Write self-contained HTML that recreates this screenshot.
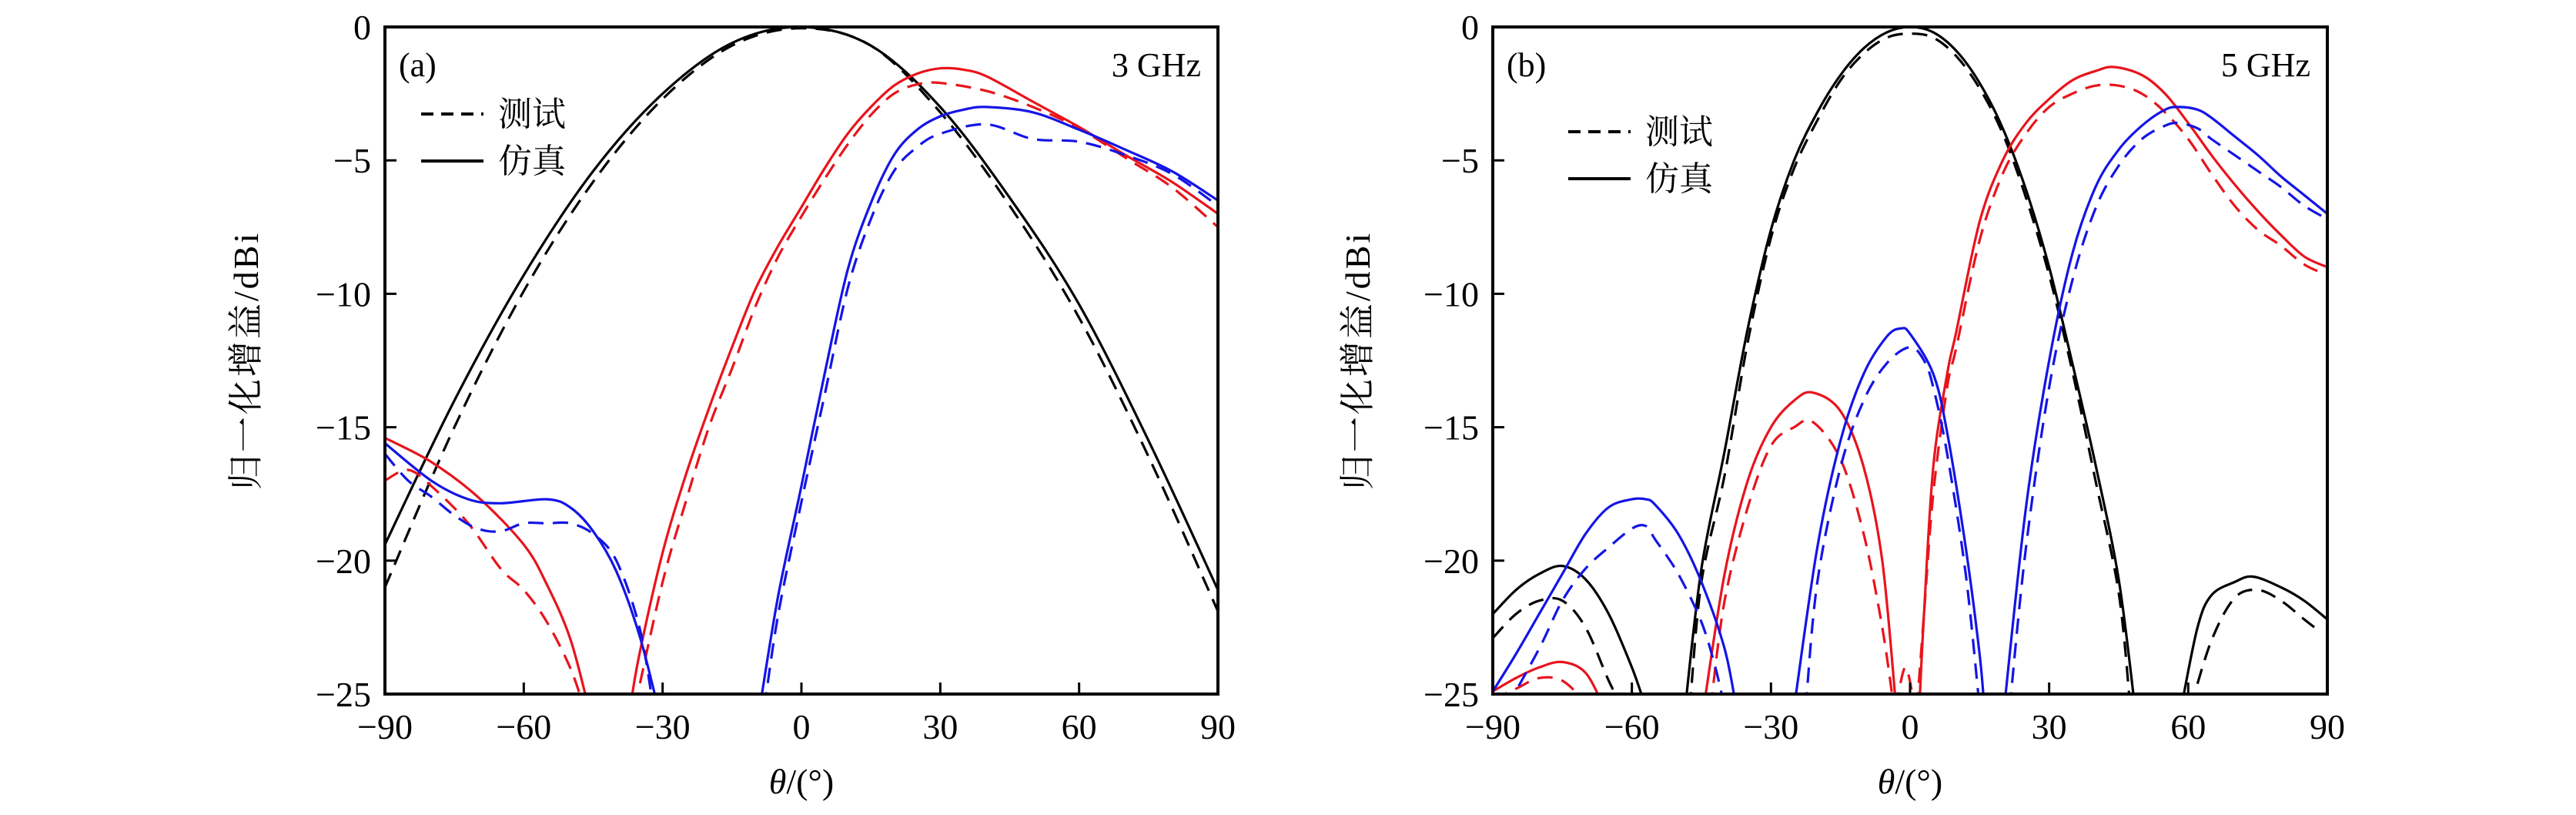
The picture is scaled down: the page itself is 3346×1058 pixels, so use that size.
<!DOCTYPE html>
<html><head><meta charset="utf-8"><style>
html,body{margin:0;padding:0;background:#fff}
svg text{font-family:"Liberation Serif","Noto Serif CJK SC",serif}
</style></head><body>
<svg id="fig" width="3346" height="1053" viewBox="0 0 3346 1053" xmlns="http://www.w3.org/2000/svg"></svg>
<script>
// ---- Panel (a) 3 GHz ----
const thetaTicks=[-90,-60,-30,0,30,60,90];
const gainTicks=[0,-5,-10,-15,-20,-25];
const aBlackSimT=[-90,-75,-60,-45,-30,-15,0,15,30,45,60,75,90];
const aBlackSimG=[-19.4,-14.0,-9.3,-5.4,-2.5,-0.6,0,-0.7,-3.0,-6.4,-10.4,-15.5,-21.1];
const aBlackMeaT=[-90,-75,-60,-45,-30,-15,0,15,30,45,60,75,90];
const aBlackMeaG=[-21.0,-15.0,-9.9,-5.8,-2.7,-0.7,-0.05,-0.7,-3.2,-6.7,-10.9,-16.1,-21.9];
const aRedSimT1=[-90,-80,-70,-60,-55,-50,-46];
const aRedSimG1=[-15.4,-16.3,-17.6,-19.4,-20.9,-22.9,-25.5];
const aRedSimT2=[-37,-35,-30,-25,-20,-15,-10,-5,0,5,10,15,20,25,30,35,40,50,60,70,80,90];
const aRedSimG2=[-25.5,-23.5,-19.7,-16.8,-14.3,-12.0,-9.85,-8.2,-6.75,-5.3,-4.0,-3.0,-2.2,-1.75,-1.55,-1.6,-1.85,-2.8,-3.75,-4.8,-5.8,-7.0];
const aRedMeaT1=[-90,-85,-80,-72,-65,-60,-55,-50,-47];
const aRedMeaG1=[-17.0,-16.6,-17.2,-18.6,-20.3,-21.1,-22.3,-24.0,-25.5];
const aRedMeaT2=[-36,-30,-25,-20,-15,-10,-5,0,5,10,15,20,25,30,40,50,60,70,80,90];
const aRedMeaG2=[-25.5,-20.8,-17.8,-15.0,-12.8,-10.5,-8.6,-7.1,-5.7,-4.4,-3.3,-2.5,-2.15,-2.1,-2.4,-3.0,-3.8,-4.9,-6.0,-7.5];
const aBlueSimT1=[-90,-80,-72,-65,-55,-50,-45,-40,-35,-31];
const aBlueSimG1=[-15.6,-17.0,-17.7,-17.85,-17.7,-18.0,-18.9,-20.4,-22.8,-25.5];
const aBlueSimT2=[-9,-5,0,5,10,15,20,25,30,35,40,50,60,70,80,90];
const aBlueSimG2=[-25.5,-21.3,-17.2,-13.0,-9.1,-6.6,-4.8,-3.85,-3.35,-3.1,-3.0,-3.2,-3.85,-4.6,-5.4,-6.5];
const aBlueMeaT1=[-90,-85,-80,-75,-70,-65,-60,-55,-50,-45,-40,-35,-32];
const aBlueMeaG1=[-16.0,-17.0,-17.6,-18.3,-18.8,-18.9,-18.6,-18.6,-18.6,-19.0,-20.0,-22.5,-25.5];
const aBlueMeaT2=[-8,-5,0,5,10,15,20,25,30,40,50,60,70,80,90];
const aBlueMeaG2=[-25.5,-22.0,-17.8,-13.8,-9.8,-7.2,-5.4,-4.5,-4.0,-3.65,-4.2,-4.3,-4.8,-5.5,-6.7];
// ---- Panel (b) 5 GHz ----
const bBlackSimT1=[-90,-85,-80,-75,-70,-65,-60,-57];
const bBlackSimG1=[-22.0,-21.1,-20.5,-20.2,-20.7,-22.0,-24.0,-25.5];
const bBlackSimT2=[-48.5,-45,-40,-35,-30,-25,-20,-15,-10,-5,0,5,10,15,20,25,30,35,40,45,48.5];
const bBlackSimG2=[-25.5,-20.3,-15.9,-11.3,-7.6,-5.0,-3.2,-1.8,-0.8,-0.2,0,-0.2,-0.9,-2.1,-3.8,-6.1,-9.0,-12.6,-16.4,-20.7,-25.5];
const bBlackSimT3=[58.5,62,65,70,74,80,85,90];
const bBlackSimG3=[-25.5,-22.5,-21.3,-20.8,-20.6,-21.0,-21.5,-22.2];
const bBlackMeaT1=[-90,-85,-80,-75,-70,-65,-62];
const bBlackMeaG1=[-22.9,-22.0,-21.5,-21.5,-22.5,-24.5,-25.5];
const bBlackMeaT2=[-47.5,-45,-40,-35,-30,-25,-20,-15,-10,-5,0,5,10,15,20,25,30,35,40,45,47.5];
const bBlackMeaG2=[-25.5,-20.8,-16.8,-11.8,-7.9,-5.3,-3.5,-2.0,-1.0,-0.4,-0.25,-0.4,-1.1,-2.3,-4.0,-6.4,-9.3,-12.9,-17.0,-21.2,-25.5];
const bBlackMeaT3=[60.5,65,70,75,80,85,88];
const bBlackMeaG3=[-25.5,-23.0,-21.4,-21.1,-21.5,-22.2,-22.6];
const bRedSimT1=[-90,-85,-80,-75,-70,-66];
const bRedSimG1=[-24.9,-24.4,-24.0,-23.8,-24.2,-25.5];
const bRedSimT2=[-44.5,-40,-35,-30,-25,-21,-15,-10,-6,-3];
const bRedSimG2=[-25.5,-20.5,-17.0,-15.0,-14.0,-13.7,-14.4,-16.5,-20.0,-25.5];
const bRedSimT3=[2,3,5,8,10,15,20,25,30,35,40,44,50,55,60,65,70,75,80,85,90];
const bRedSimG3=[-25.5,-22,-16.5,-13.0,-11.4,-7.3,-5.0,-3.6,-2.7,-2.0,-1.65,-1.5,-1.8,-2.5,-3.6,-4.8,-5.9,-6.9,-7.8,-8.6,-9.0];
const bRedMeaT1=[-90,-85,-80,-75,-70];
const bRedMeaG1=[-25.2,-24.8,-24.4,-24.5,-25.3];
const bRedMeaT2=[-43,-40,-35,-30,-25,-21,-15,-10,-6,-3.5];
const bRedMeaG2=[-25.5,-21.5,-18.0,-15.7,-15.0,-14.8,-16.2,-19.0,-22.5,-25.5];
const bRedMeaT3=[-3,-1,1];
const bRedMeaG3=[-25.5,-24.0,-25.5];
const bRedMeaT4=[1.5,3,5,8,10,15,20,25,30,35,40,45,50,55,60,65,70,75,80,85,90];
const bRedMeaG4=[-25.5,-22,-17.5,-13.5,-12.0,-8.0,-5.5,-4.0,-3.0,-2.5,-2.2,-2.2,-2.5,-3.2,-4.2,-5.5,-6.7,-7.6,-8.2,-8.9,-9.3];
const bBlueSimT1=[-90,-85,-80,-75,-70,-65,-60,-57,-55,-50,-45,-40,-37.5];
const bBlueSimG1=[-24.9,-23.5,-22.0,-20.5,-19.0,-18.0,-17.7,-17.7,-17.9,-19.0,-20.8,-23.3,-25.5];
const bBlueSimT2=[-25,-20,-15,-10,-5,-2,0,5,8,12,15,16];
const bBlueSimG2=[-25.5,-19.5,-15.5,-13.0,-11.6,-11.3,-11.5,-13.0,-15.2,-19.5,-23.5,-25.5];
const bBlueSimT3=[20.3,25,30,35,40,45,50,55,58,62,65,70,75,80,85,90];
const bBlueSimG3=[-25.5,-18,-12.5,-8.5,-6.0,-4.6,-3.7,-3.1,-3.0,-3.1,-3.4,-4.1,-4.8,-5.6,-6.3,-7.0];
const bBlueMeaT1=[-87,-80,-75,-70,-65,-60,-57,-55,-50,-45,-42,-40];
const bBlueMeaG1=[-25.5,-23.3,-21.5,-20.3,-19.5,-18.8,-18.7,-19.2,-20.5,-22.3,-24.0,-25.5];
const bBlueMeaT2=[-22.5,-20,-15,-10,-5,0,3,5,8,12,15];
const bBlueMeaG2=[-25.5,-20.8,-16.5,-14.0,-12.6,-12.0,-12.5,-13.5,-16,-20.5,-25.5];
const bBlueMeaT3=[21.5,25,30,35,40,45,50,55,58,62,65,70,75,80,85,90];
const bBlueMeaG3=[-25.5,-19.5,-13.5,-9.5,-6.8,-5.2,-4.2,-3.7,-3.6,-3.8,-4.2,-4.8,-5.4,-6.0,-6.7,-7.2];

const NS="http://www.w3.org/2000/svg";
const svg=document.getElementById('fig');
function mk(tag,attrs,parent){const e=document.createElementNS(NS,tag);for(const k in attrs)e.setAttribute(k,attrs[k]);(parent||svg).appendChild(e);return e;}
const RED='#e8141c',BLUE='#1414e6',BLACK='#000';
function path(pts){
  let d='M'+pts[0][0].toFixed(1)+','+pts[0][1].toFixed(1);
  for(let i=0;i<pts.length-1;i++){
    const p0=pts[Math.max(0,i-1)],p1=pts[i],p2=pts[i+1],p3=pts[Math.min(pts.length-1,i+2)];
    const c1=[p1[0]+(p2[0]-p0[0])/6,p1[1]+(p2[1]-p0[1])/6];
    const c2=[p2[0]-(p3[0]-p1[0])/6,p2[1]-(p3[1]-p1[1])/6];
    d+='C'+c1[0].toFixed(1)+','+c1[1].toFixed(1)+' '+c2[0].toFixed(1)+','+c2[1].toFixed(1)+' '+p2[0].toFixed(1)+','+p2[1].toFixed(1);
  }
  return d;
}
function panel(id,x0,x1,y0,y1,label,freq,legX,legY,ylabX,series){
  const g=mk('g',{});
  
  
  const xs=t=>x0+(t+90)/180*(x1-x0);
  const ys=v=>y0+(-v)/25*(y1-y0);
  const cp=mk('clipPath',{id:'clip-'+id},g);
  mk('rect',{x:x0,y:y0,width:x1-x0,height:y1-y0},cp);
  const plot=mk('g',{'clip-path':'url(#clip-'+id+')'},g);
  series.forEach(s=>{
    const pts=s.t.map((t,i)=>[xs(t),ys(s.g[i])]);
    const p=mk('path',{d:path(pts),fill:'none',stroke:s.c,'stroke-width':3.2,'stroke-dasharray':s.dash?'20 12':'none'},plot);
    
    
  });
  const fr=mk('rect',{x:x0,y:y0,width:x1-x0,height:y1-y0,fill:'none',stroke:'#000','stroke-width':4},g);
  
  
  thetaTicks.forEach(t=>{
    const x=xs(t);
    mk('line',{x1:x,x2:x,y1:y1,y2:y1-15,stroke:'#000','stroke-width':3},g);
    const tx=mk('text',{x:x,y:y1+58,'font-size':46,'text-anchor':'middle'},g);
    tx.textContent=t<0?'\u2212'+(-t):String(t);
    
    
  });
  gainTicks.forEach(v=>{
    const y=ys(v);
    mk('line',{x1:x0,x2:x0+15,y1:y,y2:y,stroke:'#000','stroke-width':3},g);
    const tx=mk('text',{x:x0-18,y:y+16,'font-size':46,'text-anchor':'end'},g);
    tx.textContent=v<0?'\u2212'+(-v):String(v);
    
    
  });
  const lb=mk('text',{x:x0+18,y:y0+64,'font-size':44},g);
  lb.textContent=label;
  
  
  const fq=mk('text',{x:x1-22,y:y0+64,'font-size':44,'text-anchor':'end'},g);
  fq.textContent=freq;
  
  
  const l1=mk('line',{x1:legX,x2:legX+81,y1:legY,y2:legY,stroke:'#000','stroke-width':4,'stroke-dasharray':'16 10'},g);
  
  
  const t1=mk('text',{x:legX+100,y:legY+15,'font-size':44},g);
  t1.textContent='测试';
  
  
  const l2=mk('line',{x1:legX,x2:legX+81,y1:legY+61,y2:legY+61,stroke:'#000','stroke-width':4},g);
  
  
  const t2=mk('text',{x:legX+100,y:legY+76,'font-size':44},g);
  t2.textContent='仿真';
  
  
  const yl=mk('text',{x:0,y:0,'font-size':46,'text-anchor':'middle','letter-spacing':3,transform:'translate('+(ylabX+15)+','+((y0+y1)/2)+') rotate(-90)'},g);
  yl.textContent='归一化增益/dBi';
  
  
  const xl=mk('text',{x:(x0+x1)/2,y:1030,'font-size':46,'text-anchor':'middle'},g);
  xl.innerHTML='<tspan font-style="italic">θ</tspan>/(°)';
  
  
}
panel('a',500,1582,35,901,'(a)','3 GHz',547,148,320,[
 {t:aBlackSimT,g:aBlackSimG,c:BLACK,dash:false,name:'a-black-simulated'},
 {t:aBlackMeaT,g:aBlackMeaG,c:BLACK,dash:true,name:'a-black-measured'},
 {t:aRedSimT1,g:aRedSimG1,c:RED,dash:false,name:'a-red-simulated-sidelobe'},
 {t:aRedSimT2,g:aRedSimG2,c:RED,dash:false,name:'a-red-simulated'},
 {t:aRedMeaT1,g:aRedMeaG1,c:RED,dash:true,name:'a-red-measured-sidelobe'},
 {t:aRedMeaT2,g:aRedMeaG2,c:RED,dash:true,name:'a-red-measured'},
 {t:aBlueSimT1,g:aBlueSimG1,c:BLUE,dash:false,name:'a-blue-simulated-sidelobe'},
 {t:aBlueSimT2,g:aBlueSimG2,c:BLUE,dash:false,name:'a-blue-simulated'},
 {t:aBlueMeaT1,g:aBlueMeaG1,c:BLUE,dash:true,name:'a-blue-measured-sidelobe'},
 {t:aBlueMeaT2,g:aBlueMeaG2,c:BLUE,dash:true,name:'a-blue-measured'}
]);
panel('b',1939,3023,35,901,'(b)','5 GHz',2037,171,1764,[
 {t:bBlackSimT1,g:bBlackSimG1,c:BLACK,dash:false,name:'b-black-simulated-left'},
 {t:bBlackSimT2,g:bBlackSimG2,c:BLACK,dash:false,name:'b-black-simulated'},
 {t:bBlackSimT3,g:bBlackSimG3,c:BLACK,dash:false,name:'b-black-simulated-right'},
 {t:bBlackMeaT1,g:bBlackMeaG1,c:BLACK,dash:true,name:'b-black-measured-left'},
 {t:bBlackMeaT2,g:bBlackMeaG2,c:BLACK,dash:true,name:'b-black-measured'},
 {t:bBlackMeaT3,g:bBlackMeaG3,c:BLACK,dash:true,name:'b-black-measured-right'},
 {t:bRedSimT1,g:bRedSimG1,c:RED,dash:false,name:'b-red-simulated-left'},
 {t:bRedSimT2,g:bRedSimG2,c:RED,dash:false,name:'b-red-simulated-mid'},
 {t:bRedSimT3,g:bRedSimG3,c:RED,dash:false,name:'b-red-simulated'},
 {t:bRedMeaT1,g:bRedMeaG1,c:RED,dash:true,name:'b-red-measured-left'},
 {t:bRedMeaT2,g:bRedMeaG2,c:RED,dash:true,name:'b-red-measured-mid'},
 {t:bRedMeaT3,g:bRedMeaG3,c:RED,dash:true,name:'b-red-measured-null'},
 {t:bRedMeaT4,g:bRedMeaG4,c:RED,dash:true,name:'b-red-measured'},
 {t:bBlueSimT1,g:bBlueSimG1,c:BLUE,dash:false,name:'b-blue-simulated-left'},
 {t:bBlueSimT2,g:bBlueSimG2,c:BLUE,dash:false,name:'b-blue-simulated-mid'},
 {t:bBlueSimT3,g:bBlueSimG3,c:BLUE,dash:false,name:'b-blue-simulated'},
 {t:bBlueMeaT1,g:bBlueMeaG1,c:BLUE,dash:true,name:'b-blue-measured-left'},
 {t:bBlueMeaT2,g:bBlueMeaG2,c:BLUE,dash:true,name:'b-blue-measured-mid'},
 {t:bBlueMeaT3,g:bBlueMeaG3,c:BLUE,dash:true,name:'b-blue-measured'}
]);
</script>
</body></html>
